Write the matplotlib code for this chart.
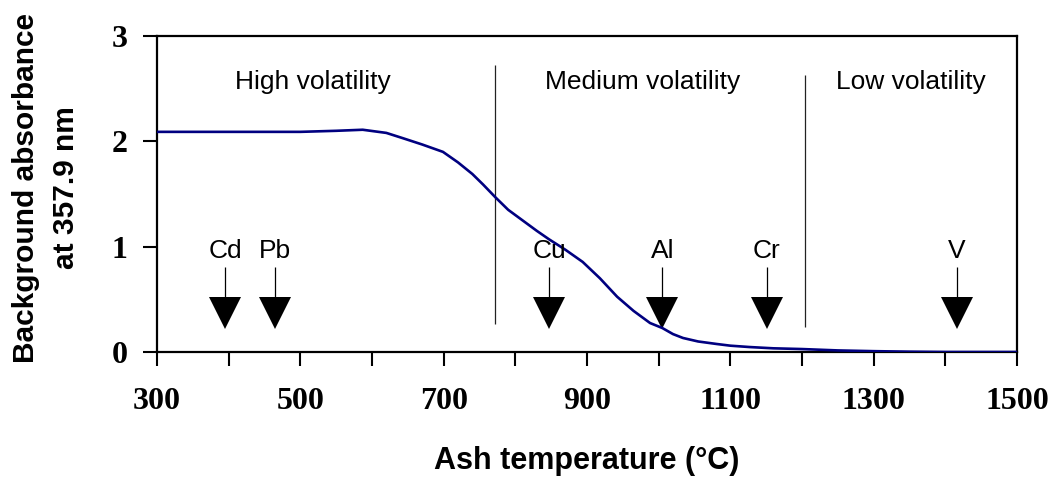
import numpy as np
import matplotlib
matplotlib.use("Agg")
import matplotlib.pyplot as plt
from matplotlib.ticker import MultipleLocator

# Background absorbance curve
ash_temp = [300, 400, 500, 550, 587, 620, 643, 670, 699, 720, 740, 755, 772,
            790, 810, 830, 847, 870, 894, 918, 942, 965, 988, 1005, 1020,
            1034, 1055, 1081, 1100, 1127, 1160, 1200, 1250, 1300, 1350,
            1400, 1500]
absorbance = [2.09, 2.09, 2.09, 2.10, 2.11, 2.08, 2.03, 1.97, 1.90, 1.80,
              1.69, 1.59, 1.47, 1.35, 1.25, 1.15, 1.07, 0.97, 0.855, 0.70,
              0.525, 0.39, 0.275, 0.228, 0.17, 0.133, 0.10, 0.076, 0.06,
              0.047, 0.035, 0.028, 0.015, 0.008, 0.003, 0.0, 0.0]

# Element volatilisation temperatures (arrows)
elements = ["Cd", "Pb", "Cu", "Al", "Cr", "V"]
element_temp = [395, 465, 847, 1005, 1151, 1416]

# Volatility regions
region_labels = ["High volatility", "Medium volatility", "Low volatility"]
region_centers = [518, 978, 1352]
region_bounds = [772, 1204]

x_ticks = [300, 500, 700, 900, 1100, 1300, 1500]
y_ticks = [0, 1, 2, 3]


def main():
    fig = plt.figure(figsize=(10.53, 4.78), dpi=100)
    ax = fig.add_axes([157 / 1053, 1 - 352 / 478, 860 / 1053, 316 / 478])

    # Main curve
    ax.plot(ash_temp, absorbance, color="#000080", lw=1.9, zorder=3)

    # Region separators
    ax.vlines(region_bounds[0], 0.27, 2.72, color="#222222", lw=0.9)
    ax.vlines(region_bounds[1], 0.24, 2.63, color="#222222", lw=0.9)

    # Region labels
    for lab, xc in zip(region_labels, region_centers):
        ax.text(xc, 2.56, lab, ha="center", va="center", fontsize=19,
                family="Liberation Sans")

    # Element arrows: stem + filled triangle + label
    ax.vlines(element_temp, 0.5, 0.81, color="black", lw=0.9)
    ax.plot(element_temp, [0.375] * len(element_temp), "v", color="black",
            markersize=23, markeredgewidth=0, linestyle="none")
    for el, xt in zip(elements, element_temp):
        ax.text(xt, 0.96, el, ha="center", va="center", fontsize=19,
                family="Liberation Sans")

    # Axes limits and ticks
    ax.set_xlim(300, 1500)
    ax.set_ylim(0, 3)
    ax.set_xticks(x_ticks)
    ax.xaxis.set_minor_locator(MultipleLocator(100))
    ax.set_yticks(y_ticks)
    ax.tick_params(axis="both", which="both", direction="out", length=10,
                   width=1.5, top=False, right=False)
    ax.tick_params(axis="x", pad=15)
    ax.tick_params(axis="y", pad=11)
    for lbl in ax.get_xticklabels() + ax.get_yticklabels():
        lbl.set_family("Liberation Serif")
        lbl.set_fontweight("bold")
        lbl.set_fontsize(23)
    for sp in ax.spines.values():
        sp.set_linewidth(1.6)

    # Axis titles
    fig.text(587 / 1053, 1 - 461 / 478, "Ash temperature (°C)", ha="center",
             va="center", fontsize=22, fontweight="bold",
             family="Liberation Sans")
    fig.text(46 / 1053, 1 - 188 / 478, "Background absorbance\nat 357.9 nm",
             ha="center", va="center", rotation=90, fontsize=21.5,
             fontweight="bold", family="Liberation Sans", linespacing=1.55,
             multialignment="center")

    fig.savefig("out.png", dpi=100)


if __name__ == "__main__":
    main()
